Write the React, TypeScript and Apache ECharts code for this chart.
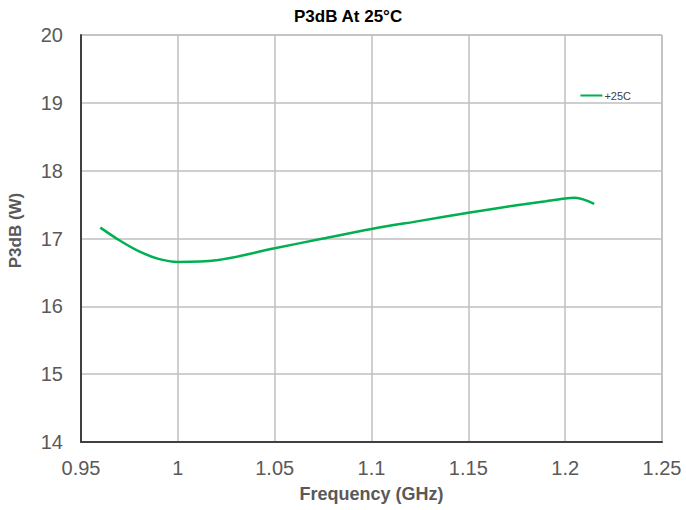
import React, { useEffect, useRef } from "react";
import * as echarts from "echarts";

const freqGHz = [0.96, 0.97, 0.98, 0.99, 1.0, 1.02, 1.05, 1.075, 1.1, 1.125, 1.15, 1.175, 1.19, 1.2, 1.205, 1.21, 1.215];
const p3dB = [17.16, 16.97, 16.81, 16.7, 16.655, 16.68, 16.855, 17.0, 17.14, 17.26, 17.38, 17.49, 17.55, 17.59, 17.6, 17.57, 17.51];
const seriesName = "+25C";

export default function App() {
  const ref = useRef<HTMLDivElement>(null);
  useEffect(() => {
    const chart = echarts.init(ref.current!, null, { renderer: "svg" });
    const font = "'Liberation Sans', Arial, sans-serif";
    chart.setOption({
      animation: false,
      textStyle: { fontFamily: font },
      title: {
        text: "P3dB At 25°C",
        left: 289,
        top: 3,
        textStyle: { fontFamily: font, fontSize: 17, fontWeight: "bold", color: "#000" },
      },
      legend: {
        right: 50,
        top: 85,
        itemWidth: 22,
        itemHeight: 2,
        icon: "rect",
        itemGap: 4,
        textStyle: { fontFamily: font, fontSize: 11, color: "#404040", padding: [0, 0, 0, -3] },
        data: [{ name: seriesName, icon: "rect" }],
      },
      grid: {
        left: 81,
        right: 24,
        top: 35,
        bottom: 68,
        outerBoundsMode: "none",
        containLabel: false,
        show: true,
        borderColor: "#a6a6a6",
        borderWidth: 1,
      },
      xAxis: {
        type: "value",
        min: 0.95,
        max: 1.25,
        interval: 0.05,
        name: "Frequency (GHz)",
        nameLocation: "middle",
        nameGap: 43,
        nameTextStyle: { fontFamily: font, fontSize: 18, fontWeight: "bold", color: "#595959" },
        axisLine: { lineStyle: { color: "#404040", width: 2 } },
        axisTick: { show: false },
        axisLabel: {
          fontFamily: font,
          fontSize: 20,
          color: "#595959",
          margin: 16,
          formatter: (v: number) => String(+v.toFixed(2)),
        },
        splitLine: { show: true, lineStyle: { color: "#bfbfbf", width: 1.5 } },
      },
      yAxis: {
        type: "value",
        min: 14,
        max: 20,
        interval: 1,
        name: "P3dB (W)",
        nameLocation: "middle",
        nameGap: 57,
        nameRotate: 90,
        nameTextStyle: { fontFamily: font, fontSize: 17, fontWeight: "bold", color: "#595959", padding: [0, 0, 0, 16] },
        axisLine: { show: true, lineStyle: { color: "#404040", width: 2 } },
        axisTick: { show: false },
        axisLabel: { fontFamily: font, fontSize: 20, color: "#595959", margin: 18 },
        splitLine: { show: true, lineStyle: { color: "#bfbfbf", width: 1.5 } },
      },
      series: [
        {
          name: seriesName,
          type: "line",
          smooth: 0.35,
          showSymbol: false,
          symbol: "none",
          lineStyle: { color: "#00b050", width: 2.5 },
          itemStyle: { color: "#00b050" },
          data: freqGHz.map((f, i) => [f, p3dB[i]]),
        },
      ],
    });
    return () => chart.dispose();
  }, []);
  return <div ref={ref} style={{ width: 686, height: 510, position: "absolute", left: 0, top: 0 }} />;
}
